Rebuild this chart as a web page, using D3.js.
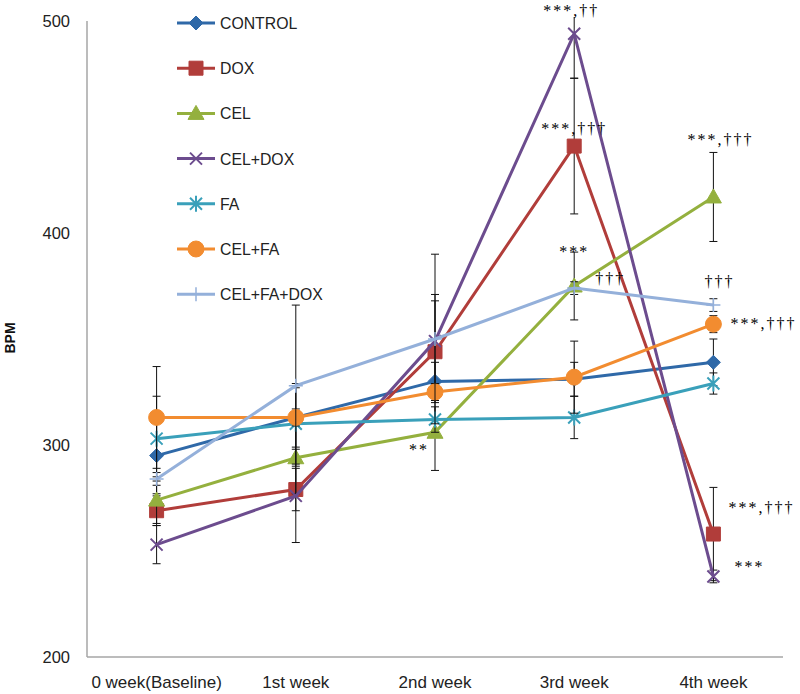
<!DOCTYPE html>
<html><head><meta charset="utf-8">
<script src="https://cdn.jsdelivr.net/npm/d3@7/dist/d3.min.js"></script>
<style>body{margin:0;background:#fff}svg{display:block}</style>
</head><body><svg id="c" width="800" height="694"></svg>
<script>
const categories = ["0 week(Baseline)","1st week","2nd week","3rd week","4th week"];
const seriesNames = ["CONTROL","DOX","CEL","CEL+DOX","FA","CEL+FA","CEL+FA+DOX"];
const controlVals = [295,313,330,331,339];
const doxVals     = [269,279,344,441,258];
const celVals     = [274,294,306,375,417];
const celDoxVals  = [253,276,349,494,238];
const faVals      = [303,310,312,313,329];
const celFaVals   = [313,313,325,332,357];
const celFaDoxVals= [284,328,350,374,366];
const controlErr  = [18,14,9,8,11];
const doxErr      = [7,10,24,32,22];
const celErr      = [11,17,18,16,21];
const celDoxErr   = [9,22,22,21,3];
const faErr       = [20,19,6,10,5];
const celFaErr    = [24,4,4,17,4];
const celFaDoxErr = [3,38,40,3,3];
const yTicks = [200,300,400,500];
const annotations = [
  {text:"***,††", s:3, i:3},
  {text:"***,†††", s:1, i:3},
  {text:"***,†††", s:2, i:4},
  {text:"***", s:2, i:3},
  {text:"†††", s:6, i:3},
  {text:"†††", s:6, i:4},
  {text:"***,†††", s:5, i:4},
  {text:"***,†††", s:1, i:4},
  {text:"***", s:3, i:4},
  {text:"**", s:2, i:2}
];
const annOffsets = [[-3,-18],[0,-12],[7,-52],[0,-29],[36,-4],[6,-18],[50,5],[48,-21],[36,-4],[-16,23]];

const colors = ["#2F69A8","#B13D3A","#94B03E","#6C4C8E","#3AA0BA","#F28C30","#94B0DA"];
const markers = ["diamond","square","triangle","x","star","circle","plus"];
const values = [controlVals,doxVals,celVals,celDoxVals,faVals,celFaVals,celFaDoxVals];
const errs = [controlErr,doxErr,celErr,celDoxErr,faErr,celFaErr,celFaDoxErr];

const svg = d3.select("#c");
const L=87,R=783,T=21,B=657;
const x = d3.scalePoint().domain(categories).range([L,R]).padding(0.5);
const y = d3.scaleLinear().domain([200,500]).range([B,T]);
const font = "'Liberation Sans', Arial, sans-serif";

svg.append("defs").append("clipPath").attr("id","clip").append("rect")
  .attr("x",L).attr("y",T-4).attr("width",R-L).attr("height",B-T+4);

// axes
svg.append("line").attr("x1",L).attr("x2",L).attr("y1",T).attr("y2",B).attr("stroke","#A6A6A6").attr("stroke-width",1.5);
svg.append("line").attr("x1",L).attr("x2",R).attr("y1",B).attr("y2",B).attr("stroke","#A6A6A6").attr("stroke-width",1.5);
svg.append("g").selectAll("text").data(yTicks).join("text")
  .attr("x",70).attr("y",d=>y(d)+6).attr("text-anchor","end")
  .attr("font-family",font).attr("font-size",16.5).attr("fill","#222").text(d=>d);
svg.append("g").selectAll("text").data(categories).join("text")
  .attr("x",d=>x(d)).attr("y",688).attr("text-anchor","middle")
  .attr("font-family",font).attr("font-size",17).attr("fill","#222").text(d=>d);
svg.append("text").attr("transform","translate(15,338) rotate(-90)").attr("text-anchor","middle")
  .attr("font-family",font).attr("font-size",14).attr("font-weight","bold").attr("fill","#111").text("BPM");

function markerPath(m){
  switch(m){
    case "diamond": return "M0,-7L7,0L0,7L-7,0Z";
    case "square": return "M-7,-7H7V7H-7Z";
    case "triangle": return "M0,-8L8,6H-8Z";
    case "circle": return d3.symbol(d3.symbolCircle, 200)();
    case "x": return "M-6,-6L6,6M-6,6L6,-6";
    case "star": return "M-6,-6L6,6M-6,6L6,-6M0,-8V8";
    case "plus": return "M-7,0H7M0,-7V7";
  }
}
function drawMarker(g,m,c,cx,cy){
  const filled = ["diamond","square","triangle","circle"].includes(m);
  g.append("path").attr("d",markerPath(m)).attr("transform",`translate(${cx},${cy})`)
    .attr("fill",filled?c:"none").attr("stroke",c).attr("stroke-width",filled?1:(m==="plus"?1.5:2));
}

const plot = svg.append("g").attr("clip-path","url(#clip)");
const line = d3.line().x((d,i)=>x(categories[i])).y(d=>y(d));
values.forEach((vals,s)=>{
  const g = plot.append("g");
  vals.forEach((v,i)=>{
    const cx = x(categories[i]), e = errs[s][i];
    g.append("line").attr("x1",cx).attr("x2",cx).attr("y1",y(v-e)).attr("y2",y(v+e)).attr("stroke","#111").attr("stroke-width",1);
    [v-e,v+e].forEach(w=>g.append("line").attr("x1",cx-4).attr("x2",cx+4).attr("y1",y(w)).attr("y2",y(w)).attr("stroke","#111").attr("stroke-width",1));
  });
  g.append("path").datum(vals).attr("d",line).attr("fill","none").attr("stroke",colors[s]).attr("stroke-width",3);
  vals.forEach((v,i)=>drawMarker(g,markers[s],colors[s],x(categories[i]),y(v)));
});

annotations.forEach((a,k)=>{
  svg.append("text").attr("x",x(categories[a.i])+annOffsets[k][0]).attr("y",y(values[a.s][a.i])+annOffsets[k][1])
    .attr("text-anchor","middle").attr("font-family","'Liberation Serif', 'Times New Roman', serif")
    .attr("font-size",16).attr("letter-spacing",2).attr("fill","#000").text(a.text);
});

const lg = svg.append("g");
seriesNames.forEach((n,s)=>{
  const ly = 23 + s*45.2;
  lg.append("line").attr("x1",177).attr("x2",215).attr("y1",ly).attr("y2",ly).attr("stroke",colors[s]).attr("stroke-width",3);
  drawMarker(lg,markers[s],colors[s],196,ly);
  lg.append("text").attr("x",220).attr("y",ly+6).attr("font-family",font).attr("font-size",15.8).attr("fill","#222").text(n);
});
</script></body></html>
